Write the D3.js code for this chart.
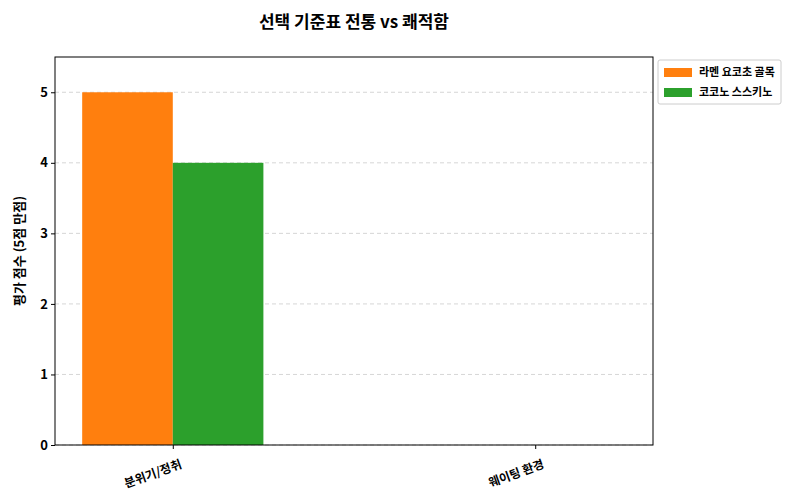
<!DOCTYPE html>
<html><head><meta charset="utf-8">
<script src="https://cdn.jsdelivr.net/npm/d3@7"></script>
<style>body{margin:0;background:#fff;font-family:"Noto Sans CJK KR","Noto Sans",sans-serif;}</style>
</head><body><svg id="c" width="800" height="500"></svg>
<script>
const categories = ["분위기/정취", "웨이팅 환경"];
const seriesNames = ["라멘 요코초 골목", "코코노 스스키노"];
const seriesA = [5, 0];
const seriesB = [4, 0];
const colors = ["#ff7f0e", "#2ca02c"];
const yTicks = [0, 1, 2, 3, 4, 5];

const svg = d3.select("#c");
const L = 55, R = 653, T = 57, B = 445;
const x = d3.scaleLinear().domain([-0.325, 1.325]).range([L, R]);
const y = d3.scaleLinear().domain([0, 5.5]).range([B, T]);
const bw = 0.25;

svg.append("text").attr("x", 354).attr("y", 28).attr("text-anchor", "middle")
  .attr("font-size", 17).attr("font-weight", "bold").text("선택 기준표 전통 vs 쾌적함");

svg.append("g").selectAll("line").data(yTicks).join("line")
  .attr("x1", L).attr("x2", R).attr("y1", d => y(d)).attr("y2", d => y(d))
  .attr("stroke", "#ccc").attr("stroke-dasharray", "4,3").attr("stroke-width", 0.8);

[seriesA, seriesB].forEach((s, si) => {
  svg.append("g").selectAll("rect").data(s).join("rect")
    .attr("x", (d, i) => x(i + (si === 0 ? -bw : 0)))
    .attr("width", x(bw) - x(0))
    .attr("y", d => y(d)).attr("height", d => B - y(d))
    .attr("fill", colors[si]);
});

svg.append("rect").attr("x", L).attr("y", T).attr("width", R - L).attr("height", B - T)
  .attr("fill", "none").attr("stroke", "#000").attr("stroke-width", 1);

const ya = svg.append("g").attr("transform", `translate(${L},0)`)
  .call(d3.axisLeft(y).tickValues(yTicks).tickFormat(d3.format("d")).tickSize(4));
ya.select(".domain").remove();
ya.selectAll("text").attr("font-size", 13).attr("font-weight", "bold").attr("font-family", "Noto Sans CJK KR");

const xa = svg.append("g").attr("transform", `translate(0,${B})`)
  .call(d3.axisBottom(x).tickValues([0, 1]).tickFormat(i => categories[i]).tickSize(4));
xa.select(".domain").remove();
xa.selectAll("text").attr("font-size", 12).attr("font-weight", "bold").attr("font-family", "Noto Sans CJK KR")
  .attr("text-anchor", "end").attr("transform", "translate(4,8) rotate(-20)").attr("dy", "0.7em");

svg.append("text").attr("transform", `translate(24,${(T + B) / 2}) rotate(-90)`)
  .attr("text-anchor", "middle").attr("font-size", 13).attr("font-weight", "bold").text("평가 점수 (5점 만점)");

const lg = svg.append("g").attr("transform", "translate(658,60)");
lg.append("rect").attr("width", 123).attr("height", 44).attr("fill", "#fff")
  .attr("stroke", "#ccc").attr("rx", 2);
seriesNames.forEach((n, i) => {
  lg.append("rect").attr("x", 6).attr("y", 8 + i * 20).attr("width", 28).attr("height", 9).attr("fill", colors[i]);
  lg.append("text").attr("x", 41).attr("y", 16 + i * 20).attr("font-size", 11).attr("font-weight", "bold").text(n);
});
</script></body></html>
